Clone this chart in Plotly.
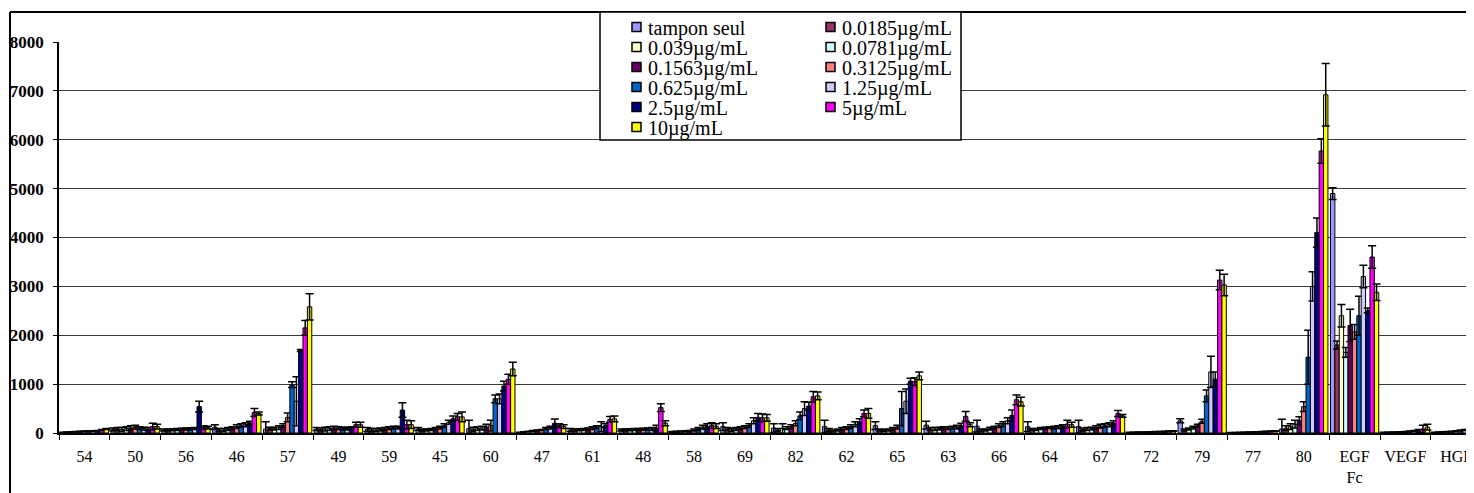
import plotly.graph_objects as go

categories = ['54', '50', '56', '46', '57', '49', '59', '45', '60', '47', '61', '48', '58', '69',
              '82', '62', '65', '63', '66', '64', '67', '72', '79', '77', '80', 'EGF<br>Fc', 'VEGF', 'HGF']

series_names = ['tampon seul', '0.0185µg/mL', '0.039µg/mL', '0.0781µg/mL', '0.1563µg/mL', '0.3125µg/mL',
                '0.625µg/mL', '1.25µg/mL', '2.5µg/mL', '5µg/mL', '10µg/mL']
series_colors = ['#9999FF', '#993366', '#FFFFCC', '#CCFFFF', '#660066', '#FF8080',
                 '#0066CC', '#CCCCFF', '#000080', '#FF00FF', '#FFFF00']

# mean values, one list per concentration
tampon = [10, 70, 60, 120, 80, 80, 70, 80, 90, 10, 60, 60, 20, 130, 100, 130, 150, 160, 140, 130, 130, 10, 250, 5, 80, 4900, 10, 10]
c0185 = [15, 80, 60, 60, 90, 70, 60, 60, 80, 20, 60, 60, 25, 80, 60, 60, 60, 80, 60, 70, 70, 12, 60, 8, 100, 1800, 12, 15]
c039 = [20, 70, 65, 60, 90, 80, 60, 60, 90, 30, 65, 65, 30, 60, 90, 40, 50, 80, 60, 70, 80, 15, 80, 10, 130, 2400, 15, 20]
c0781 = [25, 90, 70, 80, 110, 90, 70, 70, 100, 40, 70, 70, 35, 80, 100, 60, 60, 90, 90, 90, 90, 18, 110, 12, 180, 1650, 18, 25]
c1563 = [30, 100, 75, 100, 150, 100, 80, 80, 120, 50, 80, 70, 40, 100, 130, 80, 80, 100, 110, 100, 110, 20, 150, 15, 250, 2200, 20, 30]
c3125 = [35, 120, 80, 130, 320, 100, 100, 110, 150, 60, 100, 75, 60, 120, 200, 100, 120, 100, 150, 110, 140, 22, 240, 18, 540, 2070, 25, 40]
c625 = [35, 100, 85, 150, 990, 90, 110, 150, 700, 90, 120, 80, 80, 150, 350, 130, 500, 110, 180, 110, 150, 25, 760, 20, 1550, 2400, 30, 50]
c125 = [40, 90, 90, 170, 650, 90, 110, 220, 700, 110, 130, 85, 120, 250, 500, 180, 650, 120, 250, 120, 170, 28, 1250, 25, 3000, 3200, 40, 60]
c25 = [45, 80, 540, 200, 1690, 100, 470, 290, 960, 200, 150, 100, 130, 320, 550, 230, 1060, 150, 360, 130, 200, 30, 1100, 30, 4100, 2510, 50, 65]
c5 = [60, 130, 110, 420, 2150, 170, 170, 330, 1100, 150, 280, 520, 150, 310, 740, 400, 1050, 340, 680, 180, 400, 35, 3130, 35, 5770, 3600, 80, 70]
c10 = [80, 130, 110, 400, 2580, 170, 170, 330, 1310, 130, 290, 200, 140, 310, 760, 400, 1170, 170, 640, 170, 350, 40, 3030, 40, 6920, 2880, 120, 75]

# error bars (same order)
e_tampon = [5, 30, 20, 50, 150, 30, 40, 30, 170, 5, 30, 20, 10, 80, 90, 130, 80, 80, 120, 100, 130, 3, 40, 3, 200, 120, 5, 5]
e_c0185 = [5, 30, 20, 30, 30, 30, 30, 20, 40, 5, 20, 20, 10, 30, 30, 30, 20, 30, 20, 20, 30, 3, 20, 3, 50, 80, 5, 5]
e_c039 = [5, 40, 20, 30, 30, 40, 30, 20, 40, 5, 20, 20, 10, 30, 100, 20, 20, 30, 20, 20, 30, 3, 20, 3, 60, 230, 5, 5]
e_c0781 = [5, 40, 20, 30, 40, 40, 30, 20, 40, 10, 20, 20, 10, 30, 30, 20, 20, 30, 30, 20, 30, 3, 30, 3, 80, 100, 5, 5]
e_c1563 = [5, 50, 20, 30, 40, 40, 30, 30, 60, 10, 20, 20, 10, 30, 40, 30, 30, 30, 30, 20, 40, 3, 30, 3, 80, 330, 5, 5]
e_c3125 = [5, 40, 20, 40, 90, 30, 30, 30, 110, 10, 30, 20, 20, 30, 50, 30, 40, 30, 40, 20, 40, 3, 40, 3, 100, 150, 5, 5]
e_c625 = [5, 30, 20, 40, 60, 30, 30, 40, 80, 20, 30, 20, 30, 40, 80, 40, 350, 30, 50, 30, 40, 5, 120, 5, 550, 400, 10, 10]
e_c125 = [5, 30, 20, 40, 500, 30, 30, 40, 100, 30, 100, 30, 40, 60, 140, 50, 250, 40, 60, 30, 40, 5, 320, 5, 300, 230, 10, 10]
e_c25 = [5, 30, 110, 40, 20, 30, 150, 60, 100, 85, 40, 60, 60, 80, 80, 60, 60, 50, 110, 40, 50, 5, 150, 5, 300, 50, 20, 10]
e_c5 = [10, 70, 40, 80, 150, 50, 90, 70, 100, 40, 60, 80, 60, 80, 110, 70, 80, 100, 100, 80, 60, 5, 200, 5, 250, 230, 80, 10]
e_c10 = [10, 50, 30, 30, 270, 50, 80, 100, 140, 40, 60, 50, 50, 70, 80, 100, 80, 40, 90, 50, 30, 5, 220, 5, 640, 170, 60, 10]

values = [tampon, c0185, c039, c0781, c1563, c3125, c625, c125, c25, c5, c10]
errors = [e_tampon, e_c0185, e_c039, e_c0781, e_c1563, e_c3125, e_c625, e_c125, e_c25, e_c5, e_c10]

# page sits 8px in from the window corner (body margin)
OFF = 8
W, H = 1474 - OFF, 493 - OFF
L, T, B = 59 - OFF, 42 - OFF, 60
PW = W - L
PH = H - T - B


def px_x(px):
    # window pixel -> paper coordinate
    return (px - OFF - L) / PW


def px_y(py):
    return (H - B - (py - OFF)) / PH


fig = go.Figure()
for name, col, vals, errs in zip(series_names, series_colors, values, errors):
    fig.add_trace(go.Bar(
        x=categories, y=vals, name=name,
        marker=dict(color=col, line=dict(color='black', width=1)),
        error_y=dict(type='data', array=errs, visible=True, color='black', thickness=1.5, width=4),
        showlegend=False
    ))

# outer chart frame (left and top edges visible)
shapes = [
    dict(type='line', xref='paper', yref='paper', x0=px_x(10), x1=px_x(10), y0=px_y(493), y1=px_y(12),
         line=dict(color='black', width=2), layer='above'),
    dict(type='line', xref='paper', yref='paper', x0=px_x(10), x1=px_x(1474), y0=px_y(12), y1=px_y(12),
         line=dict(color='black', width=2), layer='above'),
]
# legend box
shapes.append(dict(type='rect', xref='paper', yref='paper',
                   x0=px_x(600), x1=px_x(961), y0=px_y(140), y1=px_y(12),
                   line=dict(color='black', width=1.5), fillcolor='white', layer='above'))
annotations = []
for i, (name, col) in enumerate(zip(series_names, series_colors)):
    cx = 632 + (i % 2) * 194
    cy = 27 + (i // 2) * 20
    shapes.append(dict(type='rect', xref='paper', yref='paper',
                       x0=px_x(cx), x1=px_x(cx + 9), y0=px_y(cy + 4.5), y1=px_y(cy - 4.5),
                       line=dict(color='black', width=1.5), fillcolor=col, layer='above'))
    annotations.append(dict(xref='paper', yref='paper', x=px_x(cx + 14), y=px_y(cy + 1),
                            xanchor='left', yanchor='middle', showarrow=False, text=name,
                            font=dict(family='Liberation Serif', size=20, color='black')))

fig.update_layout(
    width=W, height=H,
    margin=dict(l=L, r=0, t=T, b=B),
    barmode='group', bargap=0.05, bargroupgap=0,
    plot_bgcolor='white', paper_bgcolor='white',
    shapes=shapes, annotations=annotations,
    xaxis=dict(range=[-0.5, 27.35], tickson='boundaries', ticks='outside', ticklen=5,
               tickcolor='black', showline=True, linecolor='black', linewidth=1.5,
               showgrid=False, tickangle=0, ticklabelstandoff=8,
               tickfont=dict(family='Liberation Serif', size=16, color='black')),
    yaxis=dict(range=[0, 8000], tickvals=list(range(0, 8001, 1000)), tickformat='d',
               ticks='outside', ticklen=4, tickcolor='black', ticklabelstandoff=6,
               showline=True, linecolor='black', linewidth=1.5,
               showgrid=True, gridcolor='#3a3a3a', gridwidth=1, zeroline=False,
               tickfont=dict(family='Liberation Serif', size=17, color='black', weight='bold')),
)

fig.write_html("out.html")
